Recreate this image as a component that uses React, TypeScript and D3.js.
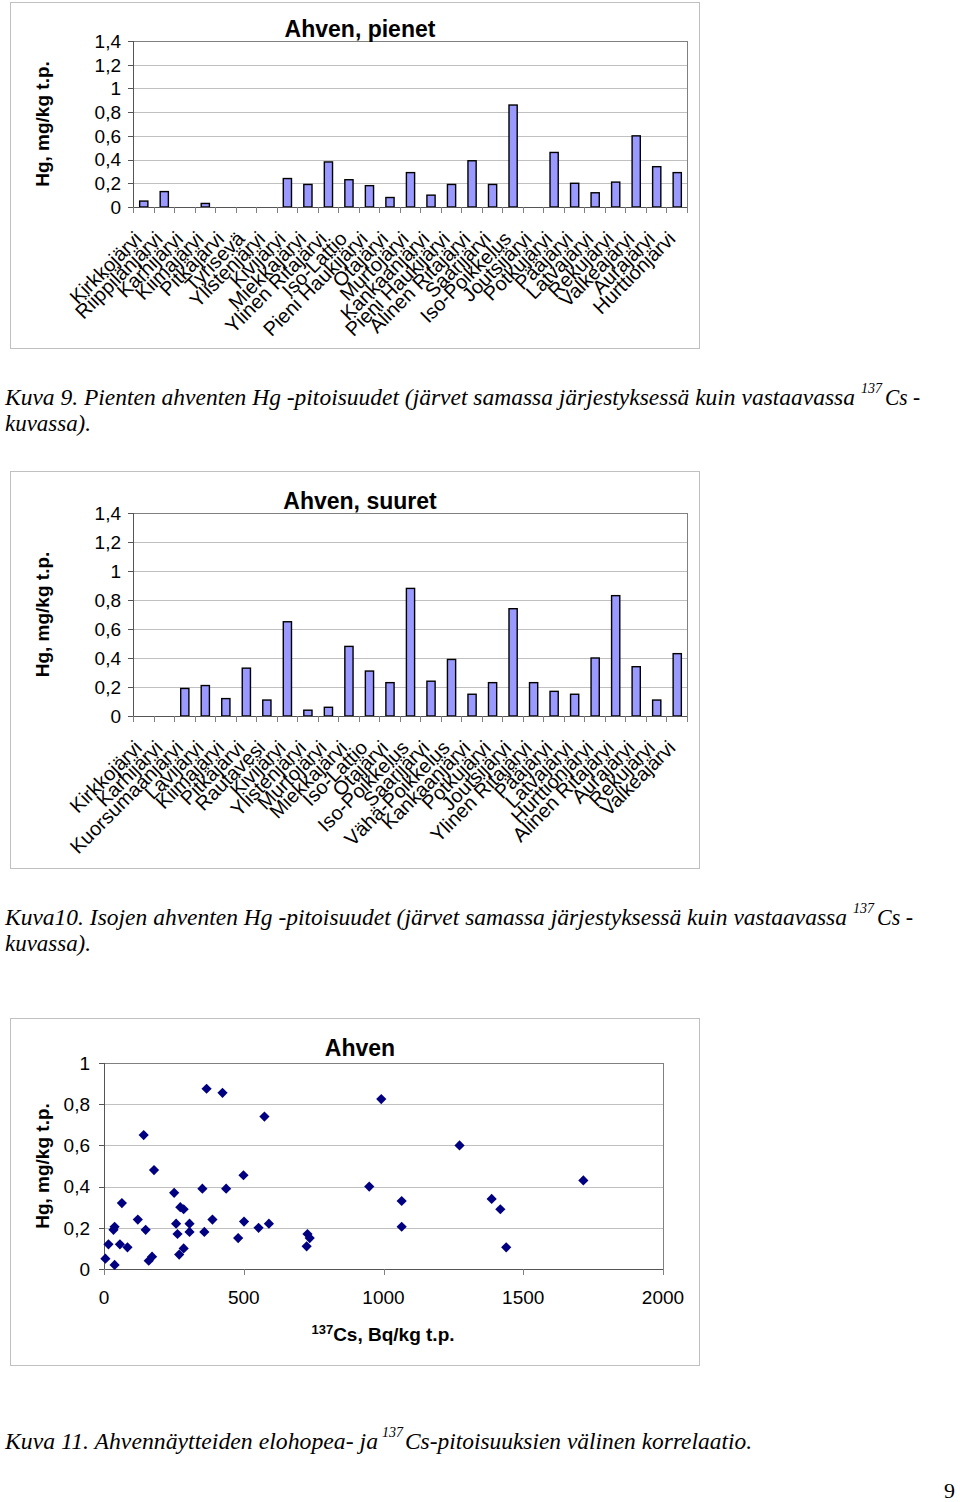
import React, { useRef, useEffect } from 'react';
import * as d3 from 'd3';

// Kuva 9: pienet ahvenet
const smallLakes = [
  'Kirkkojärvi', 'Riippilänjärvi', 'Karhijärvi', 'Kiimajärvi', 'Pitkäjärvi', 'Tyrisevä',
  'Ylistenjärvi', 'Kivijärvi', 'Miekkajärvi', 'Ylinen Ritajärvi', 'Iso-Lattio', 'Pieni Haukijärvi',
  'Otajärvi', 'Murtojärvi', 'Kankaanjärvi', 'Pieni Haukijärvi', 'Alinen Ritajärvi', 'Saarijärvi',
  'Iso-Poikkelus', 'Joutsijärvi', 'Potkujärvi', 'Pääjärvi', 'Latvajärvi', 'Rekujärvi',
  'Valkeajärvi', 'Aurajärvi', 'Hurttionjärvi',
];
const smallHg = [
  0.05, 0.13, null, 0.03, null, null, null, 0.24, 0.19, 0.38, 0.23, 0.18, 0.08, 0.29,
  0.10, 0.19, 0.39, 0.19, 0.86, null, 0.46, 0.20, 0.12, 0.21, 0.60, 0.34, 0.29,
];

// Kuva 10: suuret ahvenet
const bigLakes = [
  'Kirkkojärvi', 'Karhijärvi', 'Kuorsumaanjärvi', 'Lavijärvi', 'Kiimajärvi', 'Pitkäjärvi',
  'Rautavesi', 'Kivijärvi', 'Ylistenjärvi', 'Murtojärvi', 'Miekkajärvi', 'Iso-Lattio',
  'Otajärvi', 'Iso-Poikkelus', 'Saarijärvi', 'Vähä-Poikkelus', 'Kankaanjärvi', 'Potkujärvi',
  'Joutsijärvi', 'Ylinen Ritajärvi', 'Pääjärvi', 'Latvajärvi', 'Hurttionjärvi', 'Alinen Ritajärvi',
  'Aurajärvi', 'Rekujärvi', 'Valkeajärvi',
];
const bigHg = [
  null, null, 0.19, 0.21, 0.12, 0.33, 0.11, 0.65, 0.04, 0.06, 0.48, 0.31, 0.23, 0.88,
  0.24, 0.39, 0.15, 0.23, 0.74, 0.23, 0.17, 0.15, 0.40, 0.83, 0.34, 0.11, 0.43,
];

// Kuva 11: Cs vs Hg
const csValues = [
  5, 38, 16, 57, 84, 34, 38, 64, 121, 149, 160, 172, 142, 179, 251, 273, 285, 258, 306, 263,
  306, 269, 285, 352, 359, 388, 367, 424, 437, 480, 499, 501, 553, 590, 574, 725, 728, 736,
  949, 992, 1065, 1065, 1272, 1387, 1418, 1439, 1715,
];
const hgValues = [
  0.05, 0.02, 0.12, 0.12, 0.105, 0.19, 0.205, 0.32, 0.24, 0.19, 0.04, 0.06, 0.65, 0.48, 0.37,
  0.30, 0.29, 0.22, 0.22, 0.17, 0.18, 0.07, 0.10, 0.39, 0.18, 0.24, 0.875, 0.855, 0.39, 0.15,
  0.455, 0.23, 0.20, 0.22, 0.74, 0.11, 0.17, 0.15, 0.40, 0.825, 0.33, 0.205, 0.60, 0.34, 0.29,
  0.105, 0.43,
];

const barTicks = [0, 0.2, 0.4, 0.6, 0.8, 1, 1.2, 1.4];
const scatterYTicks = [0, 0.2, 0.4, 0.6, 0.8, 1];
const scatterXTicks = [0, 500, 1000, 1500, 2000];

const SANS = '"Liberation Sans", Arial, sans-serif';
const SERIF = '"Liberation Serif", "Times New Roman", serif';
const fmt = (v: number) => String(v).replace('.', ',');

interface BarChartProps {
  boxTop: number;
  boxHeight: number;
  plotTop: number;
  plotBottom: number;
  title: string;
  lakes: string[];
  values: (number | null)[];
}

const BarChart: React.FC<BarChartProps> = ({ boxTop, boxHeight, plotTop, plotBottom, title, lakes, values }) => {
  const gRef = useRef<SVGGElement | null>(null);

  useEffect(() => {
    if (!gRef.current) return;
    const g = d3.select(gRef.current);
    g.selectAll('*').remove();

    const left = 133, right = 687;

    g.append('rect')
      .attr('x', 10.5).attr('y', boxTop + 0.5)
      .attr('width', 689).attr('height', boxHeight)
      .attr('fill', '#fff').attr('stroke', '#c0c0c0');

    const x = d3.scaleBand<string>()
      .domain(lakes.map((_, i) => String(i)))
      .range([left, right])
      .paddingInner(0.6)
      .paddingOuter(0.3);
    const step = x.step();

    const y = d3.scaleLinear().domain([0, 1.4]).range([plotBottom, plotTop]);

    // gridlines
    g.selectAll('line.grid')
      .data(barTicks.filter(t => t > 0 && t < 1.4))
      .enter().append('line')
      .attr('x1', left).attr('x2', right)
      .attr('y1', d => Math.round(y(d)) + 0.5).attr('y2', d => Math.round(y(d)) + 0.5)
      .attr('stroke', '#c0c0c0');

    // plot area border
    g.append('rect')
      .attr('x', left + 0.5).attr('y', plotTop + 0.5)
      .attr('width', right - left).attr('height', plotBottom - plotTop)
      .attr('fill', 'none').attr('stroke', '#808080');

    // bars
    g.selectAll('rect.bar')
      .data(values.map((v, i) => ({ v, i })).filter(d => d.v !== null))
      .enter().append('rect')
      .attr('x', d => x(String(d.i))! + 0.5)
      .attr('y', d => y(d.v as number))
      .attr('width', x.bandwidth())
      .attr('height', d => y(0) - y(d.v as number))
      .attr('fill', '#9999ff')
      .attr('stroke', '#000')
      .attr('stroke-width', 1.4);

    // axes
    g.append('line')
      .attr('x1', left + 0.5).attr('x2', left + 0.5)
      .attr('y1', plotTop).attr('y2', plotBottom)
      .attr('stroke', '#555');
    g.append('line')
      .attr('x1', left).attr('x2', right)
      .attr('y1', plotBottom + 0.5).attr('y2', plotBottom + 0.5)
      .attr('stroke', '#555');

    // y ticks and labels
    barTicks.forEach(t => {
      const yy = Math.round(y(t)) + 0.5;
      g.append('line')
        .attr('x1', left - 5).attr('x2', left)
        .attr('y1', yy).attr('y2', yy)
        .attr('stroke', '#555');
      g.append('text')
        .attr('x', 121).attr('y', y(t))
        .attr('dy', '0.36em')
        .attr('text-anchor', 'end')
        .attr('font-family', SANS).attr('font-size', 19)
        .text(fmt(t));
    });

    // x ticks at category boundaries
    d3.range(lakes.length + 1).forEach(i => {
      const xx = Math.round(left + i * step) + 0.5;
      g.append('line')
        .attr('x1', xx).attr('x2', xx)
        .attr('y1', plotBottom).attr('y2', plotBottom + 6)
        .attr('stroke', '#808080');
    });

    // rotated category labels
    lakes.forEach((name, i) => {
      const cx = x(String(i))! + x.bandwidth() / 2;
      g.append('text')
        .attr('transform', `translate(${cx},${plotBottom + 33}) rotate(-45)`)
        .attr('text-anchor', 'end')
        .attr('font-family', SANS).attr('font-size', 20)
        .text(name);
    });

    // title
    g.append('text')
      .attr('x', 360).attr('y', plotTop - 4)
      .attr('text-anchor', 'middle')
      .attr('font-family', SANS).attr('font-size', 23).attr('font-weight', 'bold')
      .text(title);

    // y axis title
    g.append('text')
      .attr('transform', `translate(49,${(plotTop + plotBottom) / 2}) rotate(-90)`)
      .attr('text-anchor', 'middle')
      .attr('font-family', SANS).attr('font-size', 19).attr('font-weight', 'bold')
      .text('Hg, mg/kg t.p.');
  }, [boxTop, boxHeight, plotTop, plotBottom, title, lakes, values]);

  return <g ref={gRef} />;
};

const ScatterChart: React.FC = () => {
  const gRef = useRef<SVGGElement | null>(null);

  useEffect(() => {
    if (!gRef.current) return;
    const g = d3.select(gRef.current);
    g.selectAll('*').remove();

    const left = 104, right = 663, top = 1063, bottom = 1269;

    g.append('rect')
      .attr('x', 10.5).attr('y', 1018.5)
      .attr('width', 689).attr('height', 347)
      .attr('fill', '#fff').attr('stroke', '#c0c0c0');

    const x = d3.scaleLinear().domain([0, 2000]).range([left, right]);
    const y = d3.scaleLinear().domain([0, 1]).range([bottom, top]);

    g.selectAll('line.grid')
      .data(scatterYTicks.filter(t => t > 0 && t < 1))
      .enter().append('line')
      .attr('x1', left).attr('x2', right)
      .attr('y1', d => Math.round(y(d)) + 0.5).attr('y2', d => Math.round(y(d)) + 0.5)
      .attr('stroke', '#c0c0c0');

    g.append('rect')
      .attr('x', left + 0.5).attr('y', top + 0.5)
      .attr('width', right - left).attr('height', bottom - top)
      .attr('fill', 'none').attr('stroke', '#808080');

    g.append('line')
      .attr('x1', left + 0.5).attr('x2', left + 0.5)
      .attr('y1', top).attr('y2', bottom)
      .attr('stroke', '#555');
    g.append('line')
      .attr('x1', left).attr('x2', right)
      .attr('y1', bottom + 0.5).attr('y2', bottom + 0.5)
      .attr('stroke', '#555');

    scatterYTicks.forEach(t => {
      const yy = Math.round(y(t)) + 0.5;
      g.append('line')
        .attr('x1', left - 5).attr('x2', left)
        .attr('y1', yy).attr('y2', yy)
        .attr('stroke', '#555');
      g.append('text')
        .attr('x', 90).attr('y', y(t))
        .attr('dy', '0.36em')
        .attr('text-anchor', 'end')
        .attr('font-family', SANS).attr('font-size', 19)
        .text(fmt(t));
    });

    scatterXTicks.forEach(t => {
      const xx = Math.round(x(t)) + 0.5;
      g.append('line')
        .attr('x1', xx).attr('x2', xx)
        .attr('y1', bottom).attr('y2', bottom + 6)
        .attr('stroke', '#808080');
      g.append('text')
        .attr('x', x(t)).attr('y', 1304)
        .attr('text-anchor', 'middle')
        .attr('font-family', SANS).attr('font-size', 19)
        .text(String(t));
    });

    const diamond = d3.symbol().type(d3.symbolSquare).size(52);
    g.selectAll('path.pt')
      .data(csValues.map((c, i) => ({ c, h: hgValues[i] })))
      .enter().append('path')
      .attr('d', diamond)
      .attr('transform', d => `translate(${x(d.c)},${y(d.h)}) rotate(45)`)
      .attr('fill', '#000080');

    g.append('text')
      .attr('x', 360).attr('y', 1056)
      .attr('text-anchor', 'middle')
      .attr('font-family', SANS).attr('font-size', 23).attr('font-weight', 'bold')
      .text('Ahven');

    g.append('text')
      .attr('transform', `translate(49,${(top + bottom) / 2}) rotate(-90)`)
      .attr('text-anchor', 'middle')
      .attr('font-family', SANS).attr('font-size', 19).attr('font-weight', 'bold')
      .text('Hg, mg/kg t.p.');

    const xt = g.append('text')
      .attr('x', 383).attr('y', 1341)
      .attr('text-anchor', 'middle')
      .attr('font-family', SANS).attr('font-weight', 'bold');
    xt.append('tspan').attr('font-size', 13).attr('dy', -7).text('137');
    xt.append('tspan').attr('font-size', 19).attr('dy', 7).text('Cs, Bq/kg t.p.');
  }, []);

  return <g ref={gRef} />;
};

interface SegProps { x: number; y: number; w: number; size: number; children: string }
const Seg: React.FC<SegProps> = ({ x, y, w, size, children }) => (
  <text x={x} y={y} textLength={w} lengthAdjust="spacingAndGlyphs"
    fontFamily={SERIF} fontStyle="italic" fontSize={size}>{children}</text>
);

const App: React.FC = () => {
  return (
    <div style={{ position: 'absolute', left: 0, top: 0 }}>
      <svg width={960} height={1502} style={{ display: 'block', background: '#fff' }}>
        <BarChart boxTop={2} boxHeight={346} plotTop={41} plotBottom={207}
          title="Ahven, pienet" lakes={smallLakes} values={smallHg} />
        <BarChart boxTop={471} boxHeight={397} plotTop={513} plotBottom={716}
          title="Ahven, suuret" lakes={bigLakes} values={bigHg} />
        <ScatterChart />

        <Seg x={5} y={405} w={850} size={23}>Kuva 9. Pienten ahventen Hg -pitoisuudet (järvet samassa järjestyksessä kuin vastaavassa</Seg>
        <Seg x={861} y={393} w={21} size={14}>137</Seg>
        <Seg x={885} y={405} w={35} size={23}>Cs -</Seg>
        <Seg x={5} y={431} w={86} size={23}>kuvassa).</Seg>

        <Seg x={5} y={925} w={842} size={23}>Kuva10. Isojen ahventen Hg -pitoisuudet (järvet samassa järjestyksessä kuin vastaavassa</Seg>
        <Seg x={853} y={913} w={21} size={14}>137</Seg>
        <Seg x={877} y={925} w={36} size={23}>Cs -</Seg>
        <Seg x={5} y={951} w={86} size={23}>kuvassa).</Seg>

        <Seg x={5} y={1449} w={373} size={23}>Kuva 11. Ahvennäytteiden elohopea- ja</Seg>
        <Seg x={382} y={1437} w={21} size={14}>137</Seg>
        <Seg x={405} y={1449} w={347} size={23}>Cs-pitoisuuksien välinen korrelaatio.</Seg>

        <text x={955} y={1498} textAnchor="end" fontFamily={SERIF} fontSize={22}>9</text>
      </svg>
    </div>
  );
};

export default App;
